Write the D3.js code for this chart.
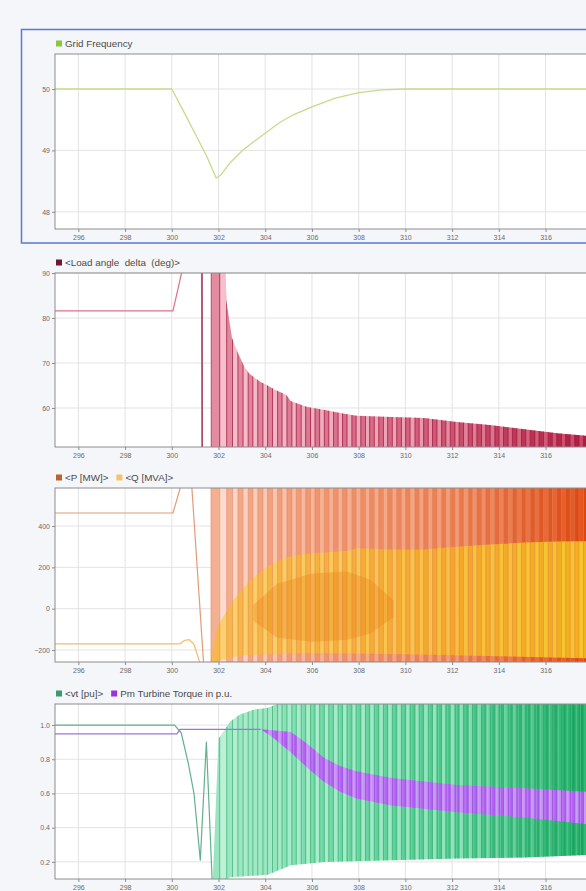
<!DOCTYPE html>
<html>
<head>
<meta charset="utf-8">
<script src="https://cdn.jsdelivr.net/npm/d3@7"></script>
<style>
    body { margin: 0; background: #f5f6f9; overflow: hidden; }
    svg { display: block; font-family: "Liberation Sans", Arial, sans-serif; }
</style>
</head>
<body>
<div id="scope"></div>
<script>
// values (time in s)
const timeTicks = [296, 298, 300, 302, 304, 306, 308, 310, 312, 314, 316, 318];

// pole slip instants, shared by every signal after the fault
const slipTimes = [301.30, 301.68, 302.05, 302.35, 302.60, 302.83, 303.05, 303.27, 303.47, 303.68,
    303.90, 304.10, 304.31, 304.53, 304.72, 304.93, 305.14, 305.33, 305.54, 305.73, 305.94, 306.13,
    306.33, 306.53, 306.72, 306.92, 307.12, 307.31, 307.50, 307.71, 307.89, 308.09, 308.29, 308.47,
    308.67, 308.86, 309.06, 309.24, 309.44, 309.63, 309.83, 310.01, 310.20, 310.41, 310.59, 310.78,
    310.98, 311.16, 311.35, 311.55, 311.73, 311.92, 312.12, 312.30, 312.49, 312.69, 312.87, 313.06,
    313.26, 313.44, 313.63, 313.83, 314.01, 314.20, 314.40, 314.58, 314.77, 314.97, 315.15, 315.34,
    315.54, 315.72, 315.91, 316.11, 316.29, 316.48, 316.68, 316.86, 317.05, 317.25, 317.43, 317.62,
    317.82, 318.00];

// panel 1: grid frequency [Hz]
const freqTicks = [48, 49, 50];
const freqCurve = [[295, 50], [300, 50], [300.5, 49.64], [301, 49.27], [301.5, 48.9], [301.9, 48.55],
    [302.1, 48.6], [302.5, 48.8], [303, 48.99], [303.5, 49.14], [304, 49.28], [304.6, 49.45],
    [305.2, 49.58], [306, 49.71], [307, 49.85], [308, 49.94], [309, 49.985], [310, 50], [320, 50]];

// panel 2: load angle [deg]
const deltaTicks = [60, 70, 80, 90];
const deltaPre = [[295, 81.6], [300.05, 81.6], [300.55, 93], [301.27, 93], [301.3, 45]];
const deltaTop = [[301.66, 93], [302.3, 93], [302.33, 84], [302.58, 75.5], [302.85, 72], [303.1, 69.2],
    [303.3, 67.7], [303.5, 66.9], [303.8, 65.8], [304.0, 65.3], [304.4, 64.1], [304.9, 62.9],
    [305.1, 61.5], [305.8, 60.2], [306.5, 59.6], [307.2, 58.9], [307.9, 58.3], [309.4, 58],
    [310.8, 57.8], [312.2, 56.9], [313.6, 56.2], [315.1, 55.3], [316.5, 54.4], [317.8, 53.8], [320, 53.2]];

// panel 3: P [MW] and Q [MVA]
const pqTicks = [-200, 0, 200, 400];
const pPre = [[295, 463], [300.05, 463], [300.4, 600], [300.85, 600], [301.36, -262]];
const qPre = [[295, -170], [300.35, -170], [300.55, -153], [300.75, -150], [300.95, -172], [301.2, -262]];
const qTop = [[301.65, -262], [301.95, -87], [302.65, 44], [303.37, 140], [304.08, 203], [304.8, 245],
    [305.5, 262], [306.2, 270], [307.6, 280], [307.9, 292], [308.6, 290], [309.4, 286], [310.8, 286],
    [312.2, 300], [313.6, 310], [315.1, 320], [316.5, 325], [320, 328]];
const qLow = [[301.65, -262], [303, -225], [306, -215], [310, -220], [314, -230], [318, -240], [320, -240]];
const qCoreTop = [[303.5, 20], [304.5, 120], [306, 170], [307.5, 180], [308.5, 140], [309.5, 40]];
const qCoreLow = [[303.5, -60], [304.5, -140], [306, -160], [307.5, -150], [308.5, -120], [309.5, -40]];

// panel 4: terminal voltage and turbine torque [pu]
const puTicks = [0.2, 0.4, 0.6, 0.8, 1.0];
const vtPre = [[295, 1.0], [300.12, 1.0], [300.4, 0.955], [300.7, 0.78], [300.95, 0.6], [301.22, 0.21],
    [301.48, 0.9], [301.74, 0.05]];
const vtTop = [[301.74, 0.05], [302.0, 0.92], [302.3, 0.98], [302.5, 1.02], [302.9, 1.06], [303.5, 1.09],
    [304.1, 1.1], [304.8, 1.14], [320, 1.14]];
const vtLow = [[301.74, 0.05], [302.5, 0.11], [304.1, 0.125], [305.1, 0.18], [306.5, 0.2], [309.4, 0.21],
    [312.2, 0.22], [315.1, 0.225], [317.8, 0.24], [320, 0.245]];
const pmPre = [[295, 0.948], [300.22, 0.948], [300.35, 0.975], [303.8, 0.975]];
const pmTop = [[303.8, 0.975], [304.3, 0.97], [305.1, 0.96], [305.8, 0.89], [306.5, 0.81], [307.2, 0.76],
    [307.9, 0.73], [309.4, 0.69], [310.8, 0.67], [312.2, 0.65], [315.1, 0.63], [317.8, 0.61], [320, 0.6]];
const pmLow = [[303.8, 0.975], [304.3, 0.93], [305.1, 0.84], [305.8, 0.75], [306.5, 0.67], [307.2, 0.61],
    [307.9, 0.57], [309.4, 0.53], [310.8, 0.51], [312.2, 0.49], [315.1, 0.46], [317.8, 0.42], [320, 0.41]];


const W = 586, H = 891;
const svg = d3.select("#scope").append("svg").attr("width", W).attr("height", H);
svg.append("rect").attr("width", W).attr("height", H).attr("fill", "#f5f6f9");

const x = d3.scaleLinear().domain([295, 320]).range([55, 639]);

class ScopePanel {
    constructor(_svg, _cfg) {
        this.svg = _svg;
        this.cfg = _cfg;
        this.initVis();
    }

    initVis() {
        const vis = this;
        const c = vis.cfg;

        vis.y = d3.scaleLinear().domain(c.yDomain).range([c.bottom, c.top]);
        vis.g = vis.svg.append("g");

        vis.g.append("rect")
            .attr("x", x.range()[0]).attr("y", c.top)
            .attr("width", x.range()[1] - x.range()[0]).attr("height", c.bottom - c.top)
            .attr("fill", "#fff");

        // grid
        vis.g.append("g").selectAll("line").data(timeTicks).join("line")
            .attr("x1", d => x(d)).attr("x2", d => x(d))
            .attr("y1", c.top).attr("y2", c.bottom)
            .attr("stroke", "#e3e3e3");
        vis.g.append("g").selectAll("line").data(c.yTicks).join("line")
            .attr("x1", x.range()[0]).attr("x2", x.range()[1])
            .attr("y1", d => vis.y(d)).attr("y2", d => vis.y(d))
            .attr("stroke", "#e3e3e3");

        vis.g.append("clipPath").attr("id", "clip-" + c.id).append("rect")
            .attr("x", x.range()[0]).attr("y", c.top)
            .attr("width", x.range()[1] - x.range()[0]).attr("height", c.bottom - c.top);
        vis.plot = vis.g.append("g").attr("clip-path", `url(#clip-${c.id})`);

        vis.lineGen = d3.line().x(d => x(d[0])).y(d => vis.y(d[1]));
        vis.shapeGen = d3.line().x(d => x(d[0])).y(d => vis.y(d[1])).curve(d3.curveLinearClosed);
    }

    stripes(name, shape, startT, fill, lineColor, lineOpacity) {
        const vis = this;
        const c = vis.cfg;
        const id = `${c.id}-${name}`;
        vis.g.append("clipPath").attr("id", id).append("path").attr("d", vis.shapeGen(shape));

        const cuts = slipTimes.filter(t => t >= startT);
        const edges = [startT, ...cuts, 320];
        const grp = vis.plot.append("g").attr("clip-path", `url(#${id})`);

        grp.selectAll("rect").data(d3.pairs(edges)).join("rect")
            .attr("x", d => x(d[0]))
            .attr("width", d => x(d[1]) - x(d[0]) + 0.4)
            .attr("y", c.top - 2).attr("height", c.bottom - c.top + 4)
            .attr("fill", (d, i) => fill(d[0], i));

        if (lineColor) {
            grp.selectAll("line.slip").data(cuts).join("line")
                .attr("class", "slip")
                .attr("x1", d => x(d)).attr("x2", d => x(d))
                .attr("y1", c.top - 2).attr("y2", c.bottom + 2)
                .attr("stroke", lineColor).attr("stroke-width", 0.9)
                .attr("opacity", lineOpacity);
        }
        return grp;
    }

    shape(points, color, opacity) {
        const vis = this;
        vis.plot.append("path").attr("d", vis.shapeGen(points))
            .attr("fill", color).attr("opacity", opacity);
    }

    line(points, color, width) {
        const vis = this;
        vis.plot.append("path").attr("d", vis.lineGen(points))
            .attr("fill", "none").attr("stroke", color)
            .attr("stroke-width", width || 1.2).attr("stroke-linejoin", "round");
    }

    finish() {
        const vis = this;
        const c = vis.cfg;

        // frame
        vis.g.append("rect")
            .attr("x", x.range()[0]).attr("y", c.top)
            .attr("width", x.range()[1] - x.range()[0]).attr("height", c.bottom - c.top)
            .attr("fill", "none").attr("stroke", "#8c8c8c");

        const yAxis = vis.g.append("g").attr("transform", `translate(${x.range()[0]},0)`)
            .call(d3.axisLeft(vis.y).tickValues(c.yTicks).tickSize(3).tickPadding(2)
                .tickFormat(c.yFormat));
        const xAxis = vis.g.append("g").attr("transform", `translate(0,${c.bottom})`)
            .call(d3.axisBottom(x).tickValues(timeTicks).tickSize(3).tickPadding(3)
                .tickFormat(d3.format("d")));
        [xAxis, yAxis].forEach(a => {
            a.select(".domain").remove();
            a.selectAll("line").attr("stroke", "#8c8c8c");
            a.selectAll("text").attr("fill", "#6a6a6a").style("font-size", "7px")
                .style("font-family", "'Liberation Sans', Arial, sans-serif");
        });

        // legend
        const ly = c.top - 10;
        let lx = 56;
        c.legend.forEach(item => {
            vis.g.append("rect").attr("x", lx).attr("y", ly - 3.5)
                .attr("width", 6).attr("height", 6).attr("fill", item.color);
            const txt = vis.g.append("text").attr("x", lx + 9).attr("y", ly)
                .attr("dy", "0.33em").attr("fill", "#4a4a4a")
                .style("font-size", "9.8px").style("white-space", "pre")
                .text(item.label);
            lx += 9 + txt.node().getComputedTextLength() + 8;
        });
    }
}

// ---- panel 1: grid frequency ----
const freqPanel = new ScopePanel(svg, {
    id: "freq", top: 54, bottom: 229, yDomain: [47.72, 50.57], yTicks: freqTicks,
    yFormat: d3.format("d"),
    legend: [{ label: "Grid Frequency", color: "#8cc63f" }]
});
freqPanel.line(freqCurve, "#c2dc8e", 1.3);
freqPanel.finish();
svg.append("rect").attr("x", 21.5).attr("y", 29.5).attr("width", 620).attr("height", 213.5)
    .attr("fill", "none").attr("stroke", "#5479d8").attr("stroke-width", 1.5);

// ---- panel 2: load angle ----
const deltaPanel = new ScopePanel(svg, {
    id: "delta", top: 273, bottom: 447, yDomain: [51.33, 90], yTicks: deltaTicks,
    yFormat: d3.format("d"),
    legend: [{ label: "<Load angle  delta  (deg)>", color: "#6b1a33" }]
});
const deltaLight = d3.scaleLinear().domain([302, 310, 318]).range(["#f5bfcc", "#eaa0b3", "#c9405f"]);
const deltaMid = d3.scaleLinear().domain([302, 310, 318]).range(["#e28aa0", "#d4627f", "#aa1a40"]);
deltaPanel.stripes("area",
    [...deltaTop, [320, 40], [deltaTop[0][0], 40]],
    301.66, (t, i) => (i % 2 ? deltaMid(t) : deltaLight(t)), "#a3183f", 0.85);
deltaPanel.line(deltaPre, "#df6f8a", 1.2);
deltaPanel.plot.append("line")
    .attr("x1", x(301.3)).attr("x2", x(301.3)).attr("y1", 273).attr("y2", 447)
    .attr("stroke", "#8c1a3c").attr("stroke-width", 1);
deltaPanel.finish();

// ---- panel 3: P and Q ----
const pqPanel = new ScopePanel(svg, {
    id: "pq", top: 488, bottom: 662, yDomain: [-258, 584], yTicks: pqTicks,
    yFormat: d3.format("d"),
    legend: [{ label: "<P [MW]>", color: "#b8662e" }, { label: "<Q [MVA]>", color: "#f5c26b" }]
});
const pLight = d3.scaleLinear().domain([302, 306, 312, 316.5]).range(["#fcdccf", "#f6b397", "#f19d7a", "#e6622e"]);
const pMid = d3.scaleLinear().domain([302, 306, 312, 316.5]).range(["#f3ae90", "#ef9672", "#ea7c4e", "#df511e"]);
pqPanel.stripes("p", [[301.65, 700], [320, 700], [320, -400], [301.65, -400]],
    301.65, (t, i) => (i % 2 ? pMid(t) : pLight(t)), null);
const qA = d3.scaleLinear().domain([303, 312, 317]).range(["#f7b549", "#f4a72a", "#f2b020"]);
const qB = d3.scaleLinear().domain([303, 312, 317]).range(["#fbcf6b", "#f8c042", "#f6c52e"]);
pqPanel.stripes("q", [...qTop, ...qLow.slice().reverse()],
    301.65, (t, i) => (i % 2 ? qA(t) : qB(t)), null);
pqPanel.shape([...qCoreTop, ...qCoreLow.slice().reverse()], "#ea8a1c", 0.4);
const pLines = pqPanel.plot.append("g");
pLines.selectAll("line").data(slipTimes.filter(t => t > 301.6)).join("line")
    .attr("x1", d => x(d)).attr("x2", d => x(d)).attr("y1", 488).attr("y2", 662)
    .attr("stroke", "#e07a4c").attr("stroke-width", 0.8).attr("opacity", 0.55);
pqPanel.line(pPre, "#e39a78", 1.2);
pqPanel.line(qPre, "#f2bd6a", 1.2);
pqPanel.finish();

// ---- panel 4: vt and Pm ----
const puPanel = new ScopePanel(svg, {
    id: "pu", top: 704, bottom: 879, yDomain: [0.10, 1.123], yTicks: puTicks,
    yFormat: d3.format(".1f"),
    legend: [{ label: "<vt [pu]>", color: "#3f9a6b" }, { label: "Pm Turbine Torque in p.u.", color: "#9b30e0" }]
});
const vA = d3.scaleLinear().domain([302, 306, 312, 316.5]).range(["#bdf1d6", "#72d8a6", "#45c687", "#1fab66"]);
const vB = d3.scaleLinear().domain([302, 306, 312, 316.5]).range(["#98e6c0", "#a8edcc", "#8de2b9", "#36bb79"]);
const vtArea = puPanel.stripes("vt", [...vtTop, ...vtLow.slice().reverse()],
    301.74, (t, i) => (i % 2 ? vA(t) : vB(t)), "#2fa56a", 0.7);
const pmA = "#b460f3", pmB = "#cd8efb";
puPanel.stripes("pm", [...pmTop, ...pmLow.slice().reverse()],
    303.8, (t, i) => (i % 2 ? pmA : pmB), "#8a3fd6", 0.6);
// light vt strokes crossing the torque band
const vtOver = puPanel.plot.append("g").attr("clip-path", "url(#pu-vt)");
vtOver.selectAll("line").data(slipTimes.filter(t => t > 304)).join("line")
    .attr("x1", d => x(d) + 1.5).attr("x2", d => x(d) + 1.5)
    .attr("y1", 704).attr("y2", 879)
    .attr("stroke", "#a9efcd").attr("stroke-width", 0.8).attr("opacity", 0.35);
puPanel.line(vtPre, "#62b08d", 1.2);
puPanel.line(pmPre, "#9f74e0", 1.2);
puPanel.finish();
</script>
</body>
</html>
